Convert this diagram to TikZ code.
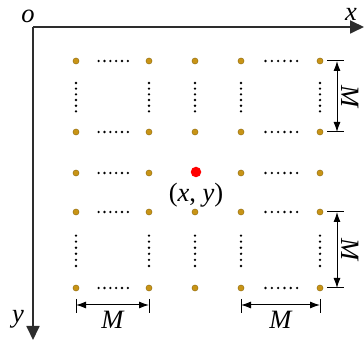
\documentclass[tikz,border=0pt]{standalone}
\usepackage{fontspec}
\setmainfont{Liberation Serif}
\usetikzlibrary{arrows.meta,calc,positioning}
\definecolor{golddot}{RGB}{200,148,22}
\definecolor{axisgray}{RGB}{45,45,45}

\begin{document}
\begin{tikzpicture}[x=1pt,y=-1pt,>={Latex[length=10pt,width=7pt]},
  gridpt/.style={circle,fill=golddot,draw=golddot!65!black,line width=0.3pt,inner sep=0pt,minimum size=6.2pt},
  centerpt/.style={circle,fill=red,inner sep=0pt,minimum size=10.5pt},
  axisline/.style={axisgray,line width=1.8pt,-{Triangle[length=14pt,width=13pt]}},
  dimline/.style={<->,line width=1pt},
  dimtick/.style={line width=1pt},
  lbl/.style={font=\fontsize{26.5}{30}\selectfont\itshape,inner sep=0pt}]
  \useasboundingbox (0,0) rectangle (364,344);
  % axes
  \coordinate (O) at (33,27);
  \coordinate (xend) at (364,27);
  \coordinate (yend) at (33,340);
  \draw[axisline] (O) -- (xend);
  \draw[axisline] (O) -- (yend);
  \node[lbl] (olbl) at (28,16) {o};
  \node[lbl] (xlbl) at (351,14) {x};
  \node[lbl] (ylbl) at (18,319) {y};
  % sample points
  \foreach \c/\px in {1/76,2/149,4/241,5/320}
    \foreach \r/\py in {1/61,2/132,3/173,4/212,5/288}
      \node[gridpt] (p\c\r) at (\px,\py) {};
  \foreach \r/\py in {1/61,2/132,4/212,5/288}
    \node[gridpt] (p3\r) at (195,\py) {};
  \node[centerpt] (p33) at (196,172) {};
  \node[lbl,font=\fontsize{26.5}{30}\selectfont,below=5pt of p33] (xy) {(\textit{x}, \textit{y})};
  % dotted gaps
  \foreach \r in {1,...,5}
    \foreach \k in {0,...,5} {
      \fill ($(p1\r)!{0.31+0.08*\k}!(p2\r)$) circle (1.3pt);
      \fill ($(p4\r)!{0.31+0.08*\k}!(p5\r)$) circle (1.3pt);
    }
  \foreach \c in {1,...,5}
    \foreach \k in {0,...,5} {
      \fill ($(p\c1)!{0.31+0.08*\k}!(p\c2)$) circle (1.3pt);
      \fill ($(p\c4)!{0.31+0.08*\k}!(p\c5)$) circle (1.3pt);
    }
  % spacing marks
  \draw[dimtick] ($(p51)+(7,0)$) -- ($(p51)+(24,0)$);
  \draw[dimtick] ($(p52)+(7,0)$) -- ($(p52)+(24,0)$);
  \coordinate (ra) at ($(p51)+(17,0)$);
  \coordinate (rb) at ($(p52)+(17,0)$);
  \draw[dimline] (ra) -- (rb);
  \node[lbl,rotate=-90] (m1) at ($(ra)!0.5!(rb)+(13,0)$) {M};
  \draw[dimtick] ($(p54)+(7,0)$) -- ($(p54)+(24,0)$);
  \draw[dimtick] ($(p55)+(7,0)$) -- ($(p55)+(24,0)$);
  \coordinate (rc) at ($(p54)+(17,0)$);
  \coordinate (rd) at ($(p55)+(17,0)$);
  \draw[dimline] (rc) -- (rd);
  \node[lbl,rotate=-90] (m2) at ($(rc)!0.5!(rd)+(13,0)$) {M};
  \draw[dimtick] ($(p15)+(0,11)$) -- ($(p15)+(0,25)$);
  \draw[dimtick] ($(p25)+(0,11)$) -- ($(p25)+(0,25)$);
  \coordinate (ba) at ($(p15)+(0,17)$);
  \coordinate (bb) at ($(p25)+(0,17)$);
  \draw[dimline] (ba) -- node[lbl,below=6pt] (m3) {M} (bb);
  \draw[dimtick] ($(p45)+(0,11)$) -- ($(p45)+(0,25)$);
  \draw[dimtick] ($(p55)+(0,11)$) -- ($(p55)+(0,25)$);
  \coordinate (bc) at ($(p45)+(0,17)$);
  \coordinate (bd) at ($(p55)+(0,17)$);
  \draw[dimline] (bc) -- node[lbl,below=6pt] (m4) {M} (bd);
\end{tikzpicture}
\end{document}
